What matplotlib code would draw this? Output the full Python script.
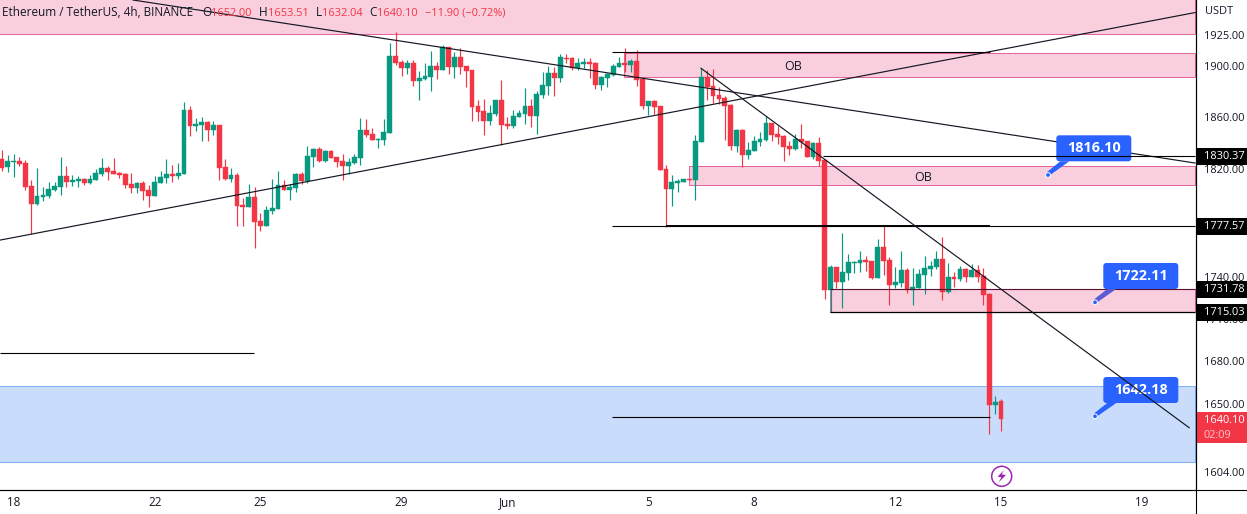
import numpy as np
import matplotlib
matplotlib.use('Agg')
import matplotlib.pyplot as plt
from matplotlib.patches import Rectangle, FancyBboxPatch, Polygon, Circle
from matplotlib.ticker import NullLocator

plt.rcParams['font.family'] = ['Open Sans', 'DejaVu Sans']

# 4h candles, ETH/USDT
opens = [1827.8,1821.2,1825.7,1826.2,1824.7,1807.3,1793.7,1799.2,1799.7,1804.3,
         1806.6,1814.8,1810.3,1811,1812.6,1809.5,1811.8,1816.4,1820.9,1818.6,
         1817.1,1816.4,1808.8,1805.8,1809.5,1804.3,1799.7,1809.5,1813.3,1816.4,
         1814.8,1816.4,1865.5,1853,1853.8,1856.1,1850,1853.8,1821.7,1812.6,
         1815.6,1793,1791.5,1799,1781.2,1777.4,1788.6,1790,1808,1804.3,
         1805.8,1816.4,1811,1829.2,1835.3,1826.2,1833.7,1829.2,1826.2,1822.4,
         1824.7,1828.5,1850,1846.9,1842.2,1842.2,1847.7,1907.9,1903.2,1898.4,
         1902.4,1888.1,1889.7,1891.3,1900,1896.8,1915,1899.2,1907.1,1900,
         1896.8,1868.6,1864.7,1856.9,1862.4,1873.2,1854.6,1853,1860,1862.4,
         1868.6,1860.8,1877.1,1884.2,1894.4,1890.5,1906.3,1906.3,1898.4,1901.6,
         1903.2,1902.4,1885,1890.5,1892.9,1899.2,1902.4,1900.8,1904,1889.7,
         1868.6,1872.4,1868.6,1820.2,1805,1809.5,1810.3,1812.6,1811.8,1840.7,
         1891.3,1884.2,1877.1,1874.8,1869.3,1837.6,1850,1830.8,1833.7,1840.7,
         1842.2,1855.3,1846.9,1845.3,1837.6,1835.3,1843,1841.4,1829.2,1839.9,
         1827,1730.7,1747.2,1736.3,1742.8,1750.1,1750.1,1752.3,1751.6,1739.3,
         1761.8,1752.3,1734.1,1735.6,1745,1730.5,1732,1741.4,1745.7,1747.2,
         1753,1729.1,1740,1738.5,1745.7,1740,1745,1740.7,1727.6,1649.5,1652]
closes = [1820.9,1826.2,1826,1824,1806.6,1793.7,1799.7,1800.2,1805,1807.3,
          1814.8,1810.3,1811.8,1812.6,1809.5,1812.6,1817.1,1820.9,1817.9,1816.4,
          1815.6,1808,1805.8,1809.5,1803.6,1799.7,1810.3,1814,1816.4,1814.8,
          1817.1,1865.5,1853,1854.6,1856.1,1850,1853.8,1820.9,1812.6,1815.6,
          1792.2,1791.5,1799,1780.4,1777.4,1789.3,1790.8,1808,1804.3,1806.6,
          1816.4,1811,1830,1835.3,1826.2,1833.7,1828.5,1825.5,1822.4,1825.5,
          1829.2,1850,1846.1,1842.2,1843,1848.5,1907.9,1902.4,1898.4,1902.4,
          1888.1,1890.5,1892.1,1900,1896.8,1915,1899.2,1907.1,1899.2,1896,
          1867.8,1863.9,1856.9,1863.2,1873.2,1853.8,1853,1860.8,1863.2,1868.6,
          1860.8,1877.9,1885,1894.4,1890.5,1907.1,1905.5,1898.4,1902.4,1903.2,
          1901.6,1885,1891.3,1893.6,1900,1902.4,1900.8,1904,1888.9,1868.6,
          1872.4,1867.8,1819.4,1805,1810.3,1811,1812.6,1811.8,1841.4,1891.3,
          1883.4,1876.3,1874,1868.6,1837.6,1850,1830.8,1834.5,1841.4,1843,
          1855.3,1846.1,1844.6,1836.8,1835.3,1843,1840.7,1829.2,1839.9,1826.2,
          1730.5,1747.2,1736.3,1743.6,1750.9,1750.9,1752.3,1750.9,1739.3,1761.8,
          1751.6,1734.1,1736.3,1745,1730.5,1732.7,1742.1,1746.5,1747.9,1753,
          1729.1,1740,1738.5,1745.7,1740,1745,1740,1726.9,1649.5,1651.6,1640.1]
highs = [1834.5,1830.8,1831.5,1829,1827,1811.8,1820.9,1806.3,1810.3,1810.3,
         1829.2,1822.4,1815.6,1814.8,1813.1,1815.6,1820.2,1828.5,1822.4,1828.5,
         1817.9,1817.1,1817.1,1810.3,1810.8,1808,1814.8,1818.6,1827.8,1823.2,
         1824.7,1871.6,1868.6,1859.2,1860,1856.9,1856.9,1853.8,1827.8,1820.9,
         1817.1,1798.2,1808.8,1806.6,1786.8,1792.2,1812.6,1818.6,1811.8,1808.8,
         1817.1,1817.9,1837.6,1836,1836.8,1834.5,1834.5,1829.2,1831.5,1828.5,
         1831.5,1859.2,1858.5,1851.5,1843.7,1858.5,1918.1,1927,1904.7,1904.7,
         1904.7,1896,1902.1,1911.6,1903.2,1916.5,1915,1911,1914.2,1900,
         1896.8,1873.2,1874,1869.3,1873.2,1888.9,1860,1865.5,1865.5,1882.6,
         1874,1880.2,1895.2,1900,1899.2,1909.4,1909.4,1907.1,1906.3,1906.3,
         1906.3,1903.2,1892.1,1894.4,1901.6,1907.1,1914.2,1905.5,1912.6,1890.2,
         1872.4,1873.2,1868.6,1823.2,1815.6,1812.6,1812.6,1812.6,1846.1,1898.1,
         1896.8,1897.6,1883.4,1876.3,1870.1,1850.8,1850.8,1840.7,1845.3,1848.5,
         1860.8,1855.3,1853,1846.1,1841.4,1846.9,1854.6,1841.4,1840.7,1844.6,
         1827.8,1748.7,1747.2,1772.1,1756.7,1751.6,1758.9,1755.2,1751.6,1767.7,
         1777.3,1754.5,1747.2,1758.9,1746.5,1746.5,1745.7,1755.2,1751.6,1758.9,
         1769.2,1750.1,1743.6,1747.9,1746.5,1749.4,1748.7,1746.5,1728.3,1655.8,1653.51]
lows = [1818.9,1818.1,1814.3,1822.7,1804.3,1771.1,1793,1796.2,1798,1803.8,
        1800.5,1806.6,1807.3,1806.6,1808,1808.8,1811.8,1814.8,1811.8,1816.4,
        1813.3,1805.8,1802,1802,1796.7,1791.5,1799.7,1809.5,1809.5,1810.3,
        1812.6,1816.4,1845.3,1849.2,1841.4,1841.4,1846.1,1811.8,1811.8,1810.3,
        1777.4,1777.4,1791.5,1761.1,1773.8,1777.4,1786.3,1790,1804.3,1796.7,
        1802.8,1808.8,1809.5,1821.7,1825.5,1825.5,1828.5,1821.7,1811.8,1816.4,
        1824,1823.2,1844.6,1842.2,1836,1838.4,1847.7,1900.8,1892.1,1893.6,
        1884.2,1873.2,1888.9,1880.2,1889.7,1896.8,1893.6,1890.5,1893.6,1883.4,
        1856.9,1856.9,1846.1,1853.8,1860.8,1838.4,1850.8,1851.3,1860,1854.6,
        1852.3,1846.9,1874.8,1877.1,1876.3,1887.3,1902.4,1896.8,1896.8,1898.4,
        1890.5,1881.8,1881,1883.4,1892.1,1899.2,1895.2,1895.2,1884.2,1866.3,
        1861.6,1862.4,1819.4,1776.9,1792.2,1802.8,1810.3,1811.8,1796.7,1840.7,
        1873.2,1870.9,1870.1,1842.2,1834.5,1833,1821.7,1827.8,1833.7,1837.6,
        1841.4,1841.4,1839.1,1826.2,1830.8,1834.5,1836,1829.2,1827.8,1822.4,
        1724,1714.7,1732,1717.5,1737.8,1742.8,1743.6,1744.3,1738.5,1739.3,
        1741.4,1719.7,1732,1732.7,1728.3,1719.7,1732,1727.6,1740.7,1745.7,
        1723.3,1728.3,1732.7,1737.1,1736.3,1740,1736.3,1719.7,1629.8,1643.3,1632.04]

date_ticks = [2, 26, 44, 68, 86, 110, 128, 152, 170, 194]
date_labels = ['18', '22', '25', '29', 'Jun', '5', '8', '12', '15', '19']
price_ticks = [1925, 1900, 1860, 1820, 1740, 1710, 1680, 1650, 1626, 1604]

GREEN = '#089981'
RED = '#f23645'
PINK = '#f9cfde'
PINK_EDGE = '#e2679c'
BLUE = '#2962ff'
INK = '#131722'
SMALL = 7.9
W, H = 1247, 514
RIGHT = 203.08

fig = plt.figure(figsize=(W / 100, H / 100), dpi=100)
ax = fig.add_axes([0, 24 / H, 1195.5 / W, 490 / H])
ax.set_yscale('log')
ax.set_xlim(-0.31, RIGHT)
ax.set_ylim(1592.1, 1952.9)

# pixel overlay for the price tags, header and callouts
ov = fig.add_axes([0, 0, 1, 1], facecolor='none')
ov.set_xlim(0, W)
ov.set_ylim(H, 0)
ov.axis('off')


def y_px(price):
    return ax.transData.transform((0, price))[1] * -1 + H


# zones
def zone(x0, p0, p1, fill=PINK, edge=PINK_EDGE):
    ax.add_patch(Rectangle((x0, p0), RIGHT - x0, p1 - p0, facecolor=fill, edgecolor=edge, lw=0.75, zorder=1))


zone(-5, 1925.5, 1990)
zone(105.85, 1891.4, 1910)
zone(116.9, 1808.2, 1822.3)
zone(140.9, 1714.6, 1731.2)
zone(-5, 1610.6, 1662.5, fill='#c9dcfb', edge='#82b1f5')

# candles
x = np.arange(len(opens))
o = np.array(opens)
c = np.array(closes)
colors = [GREEN if b >= a else RED for a, b in zip(o, c)]
ax.vlines(x, lows, highs, colors=colors, lw=0.85, zorder=2)
ax.bar(x, np.abs(c - o), bottom=np.minimum(o, c), width=0.82, color=colors,
       edgecolor=colors, lw=0.3, zorder=3)

# drawings
ax.plot([22.32, 203], [1952.9, 1824.6], color='#131722', lw=0.85, zorder=4)
ax.plot([-0.31, 203], [1766.9, 1942.7], color='#131722', lw=0.85, zorder=4)
ax.plot([118.95, 202], [1898.1, 1634], color='#131722', lw=0.85, zorder=8)
ax.hlines(1911.4, 103.8, 168.1, color='black', lw=0.8, zorder=4)
ax.hlines(1829.7, 139.7, RIGHT, color='black', lw=0.8, zorder=8)
ax.hlines(1777, 103.8, RIGHT, color='black', lw=0.8, zorder=4)
ax.hlines(1777, 113, 168.1, color='black', lw=1.4, zorder=4)
ax.hlines(1731.2, 140.9, RIGHT, color='#5a1030', lw=0.8, zorder=4)
ax.hlines(1714.6, 140.9, RIGHT, color='black', lw=0.9, zorder=4)
ax.hlines(1685.7, -0.31, 42.9, color='black', lw=0.8, zorder=4)
ax.hlines(1641, 103.8, 168.1, color='black', lw=0.8, zorder=4)

ax.text(134.6, 1899.6, 'OB', ha='center', va='center', fontsize=9, color=INK, zorder=5)
ax.text(156.7, 1813.6, 'OB', ha='center', va='center', fontsize=9, color=INK, zorder=5)


# callouts, x/y given in overlay pixels so they sit under the lines
def callout(x0, y0, dot, label, tail_color=BLUE):
    t = ov.transData
    ax.add_patch(Polygon([(x0 + 4, y0 + 26), (x0 + 13, y0 + 26), (dot[0] + 1.5, dot[1] + 0.5), (dot[0] - 1.5, dot[1] - 2.5)],
                         closed=True, facecolor=tail_color, edgecolor='none', transform=t, zorder=6, clip_on=False))
    ax.add_patch(FancyBboxPatch((x0, y0), 75, 26, boxstyle='round,pad=0,rounding_size=3', facecolor=BLUE,
                                edgecolor='none', transform=t, zorder=6, clip_on=False))
    ax.add_patch(Circle(dot, 2.4, facecolor=BLUE, edgecolor='white', lw=0.7, transform=t, zorder=6.5, clip_on=False))
    ax.text(x0 + 37.5, y0 + 12.5, label, color='white', fontsize=10.4, fontweight='bold', ha='center', va='center',
            transform=t, zorder=7)


callout(1056.3, 135.3, (1048, 175), '1816.10')
callout(1103.3, 263, (1095, 302.3), '1722.11', tail_color='#5b5bd6')
callout(1103.3, 377, (1095, 416.3), '1642.18')

# axes
for s in ['top', 'left']:
    ax.spines[s].set_visible(False)
ax.spines['right'].set_linewidth(0.8)
ax.spines['bottom'].set_linewidth(0.8)
ax.yaxis.tick_right()
ax.yaxis.set_minor_locator(NullLocator())
ax.set_yticks(price_ticks)
ax.set_yticklabels(['%.2f' % p for p in price_ticks])
ax.set_xticks(date_ticks)
ax.set_xticklabels(date_labels)
ax.tick_params(axis='y', length=0, pad=6, labelsize=SMALL, labelcolor=INK)
ax.tick_params(axis='x', length=0, pad=4.5, labelsize=8.4, labelcolor=INK)
ov.plot([0, W], [489.5, 489.5], color='black', lw=0.8)
ov.plot([1195.5, 1195.5], [0, H], color='black', lw=0.8)
ov.text(1205, 11.5, 'USDT', fontsize=SMALL, color=INK, va='center')


# price tags
def tag(price, text):
    y = y_px(price) + 0.8
    ov.add_patch(Rectangle((1196, y - 8.5), 51, 17, facecolor='black', edgecolor='none'))
    ov.text(1204, y, text, color='white', fontsize=SMALL, va='center')


tag(1830.37, '1830.37')
tag(1777.57, '1777.57')
tag(1731.78, '1731.78')
tag(1715.03, '1715.03')
ov.add_patch(Rectangle((1196, 412), 51, 31, facecolor=RED, edgecolor='none'))
ov.text(1204, 420.5, '1640.10', color='white', fontsize=SMALL, va='center')
ov.text(1203, 435, '02:09', color='#fbc4ca', fontsize=SMALL, va='center')

# header
ov.text(2, 13, 'Ethereum / TetherUS, 4h, BINANCE', color=INK, fontsize=8.5, va='center')
for lx, letter, vx, value in [(202, 'O', 211, '1652.00'), (259, 'H', 268, '1653.51'),
                              (316, 'L', 322, '1632.04'), (369, 'C', 377, '1640.10')]:
    ov.text(lx, 13, letter, color=INK, fontsize=8.5, va='center')
    ov.text(vx, 13, value, color=RED, fontsize=SMALL, va='center')
ov.text(425, 13, '\u221211.90 (\u22120.72%)', color=RED, fontsize=SMALL, va='center')

# lightning badge
ov.add_patch(Circle((1001.7, 476.3), 10, facecolor='white', edgecolor='#9c27b0', lw=1.1))
bolt = np.array([(132, 45), (113, 65), (124, 67), (116, 82), (138, 60), (125, 58)]) / 3 + (960, 455)
ov.add_patch(Polygon(bolt, closed=True, facecolor='#9c27b0', edgecolor='none'))

fig.savefig('out.png', dpi=100)
